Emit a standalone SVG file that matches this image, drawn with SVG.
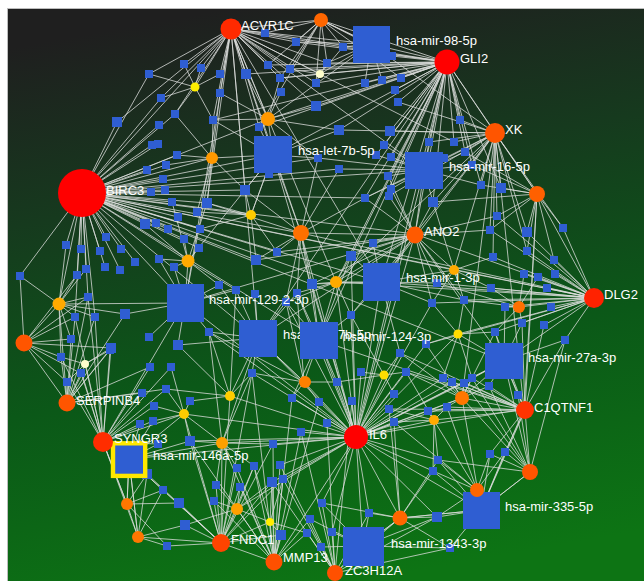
<svg xmlns="http://www.w3.org/2000/svg" xmlns:xlink="http://www.w3.org/1999/xlink" width="644" height="581" viewBox="0 0 644 581">
<defs>
<linearGradient id="bg" x1="0.35" y1="0" x2="0.55" y2="1">
<stop offset="0" stop-color="#1f1f1f"/>
<stop offset="0.3" stop-color="#163a1e"/>
<stop offset="0.62" stop-color="#0b5818"/>
<stop offset="1" stop-color="#0d7414"/>
</linearGradient>
<rect id="q" x="-4" y="-4" width="8" height="8"/>
<rect id="qm" x="-5" y="-5" width="10" height="10"/>
</defs>
<style>
.edges path{fill:none;stroke:#dcdedc;stroke-opacity:0.82;stroke-width:0.95;stroke-linejoin:round}
.nodes use,.mir rect{fill:#2f5ed2}
.lb{fill:#ffffff;font-family:"Liberation Sans",Arial,sans-serif;font-size:13px}
</style>
<rect x="0" y="0" width="644" height="581" fill="#ffffff"/>
<rect x="7.5" y="8.5" width="637" height="573" fill="url(#bg)" stroke="#bdbdbd" stroke-width="1"/>

<g id="connectors" class="edges">
<path id="e-birc3" d="M149 74 82 193 117 122M161 98 82 193 175 114M231 29 82 193 152 145M158 144 82 193 177 155M166 165 82 193 147 170M163 179 82 193 151 192M165 190 82 193 172 202M145 224 82 193 156 223M168 229 82 193 106 237M66 245 82 193 81 249M100 251 82 193 121 249M135 262 82 193 105 267M120 270 82 193 86 269M77 275 82 193 20 276M88 297 82 193 75 317M95 317 82 193 273 155M424 170 82 193 381 282M185 303 82 193 258 338M319 340 82 193 504 361M212 158 82 193 268 119M245 190 82 193 207 203M301 233 82 193 336 282M188 261 82 193 251 215M200 229 82 193 184 239M199 248 82 193 318 158M339 169 82 193 593 298M415 234 82 193 454 270M365 198 82 193 277 252M256 260 82 193 59 304M159 125 82 193 178 217"/>
<path id="e-acvr1c" d="M149 74 231 29 184 64M201 68 231 29 220 74M246 74 231 29 220 93M117 122 231 29 175 114M213 120 231 29 259 127M265 33 231 29 296 42M268 65 231 29 290 69M280 78 231 29 316 83M343 47 231 29 371 44M273 155 231 29 268 119M195 87 231 29 301 233M245 190 231 29 336 282M185 303 231 29 258 338M454 142 231 29 424 170M316 106 231 29 321 20M161 98 231 29 327 63M320 74 231 29 207 203M381 282 231 29"/>
<path id="e-gli2" d="M371 44 447 62 392 56M365 83 447 62 382 80M401 78 447 62 395 90M398 102 447 62 339 130M390 131 447 62 384 145M376 155 447 62 391 157M429 142 447 62 454 142M460 120 447 62 465 152M424 170 447 62 388 176M391 189 447 62 495 133M481 185 447 62 501 188M537 194 447 62 316 83M316 106 447 62 280 78M268 65 447 62 290 69M246 74 447 62 343 47M327 63 447 62 320 74M273 155 447 62 268 119M213 120 447 62 381 282M351 256 447 62 415 234M336 282 447 62 319 340M472 165 447 62 433 202M365 198 447 62 321 20M296 42 447 62 265 33M259 127 447 62 355 437M258 338 447 62"/>
<path id="e-xk" d="M460 120 495 133 454 142M465 152 495 133 472 165M481 185 495 133 501 188M537 194 495 133 424 170M433 202 495 133 429 142M390 131 495 133 497 216M490 230 495 133 527 232M415 234 495 133 381 282M365 198 495 133 527 251M563 228 495 133 454 270M389 196 495 133 398 102M339 130 495 133 493 257M462 398 495 133 524 409M336 282 495 133"/>
<path id="e-il6" d="M337 382 356 437 361 372M352 401 356 437 319 402M292 398 356 437 327 423M389 409 356 437 394 422M394 394 356 437 406 372M400 353 356 437 384 375M319 340 356 437 258 338M381 282 356 437 351 315M336 282 356 437 301 233M304 382 356 437 252 373M222 443 356 437 273 444M301 432 356 437 280 465M283 479 356 437 272 482M237 509 356 437 129 459M190 441 356 437 322 503M369 513 356 437 332 532M363 546 356 437 400 518M437 517 356 437 434 420M462 398 356 437 443 378M452 382 356 437 464 383M472 378 356 437 504 361M438 460 356 437 433 471M481 510 356 437 428 411M447 407 356 437 351 256M415 234 356 437 424 170M230 396 356 437 184 414M209 332 356 437 312 284M297 293 356 437 286 302M185 303 356 437 458 334M432 303 356 437 426 344M524 409 356 437"/>
<path id="e-dlg2" d="M554 260 594 298 555 274M538 277 594 298 547 288M551 307 594 298 544 325M565 340 594 298 563 228M527 232 594 298 527 251M524 274 594 298 505 307M522 323 594 298 519 307M491 288 594 298 495 332M504 361 594 298 454 270M381 282 594 298 415 234M537 194 594 298 458 334M464 300 594 298 437 283M432 303 594 298 426 344M493 257 594 298 497 216M490 230 594 298 301 233M336 282 594 298"/>
<path id="e-c1qtnf1" d="M518 395 525 410 489 386M504 361 525 410 472 378M464 383 525 410 462 398M447 407 525 410 428 411M530 472 525 410 505 452M490 454 525 410 481 510M434 420 525 410 406 372M565 340 525 410 495 332M400 353 525 410 544 325M522 323 525 410 452 382M443 378 525 410 389 409M537 194 525 410 319 340"/>
<path id="e-syngr3" d="M110 350 103 442 82 374M67 382 103 442 85 364M142 393 103 442 154 406M140 424 103 442 153 421M158 444 103 442 166 389M129 459 103 442 127 504M88 297 103 442 75 317M95 317 103 442 150 367M171 367 103 442 184 414M61 357 103 442 81 373M111 348 103 442 138 537"/>
<path id="e-serpinb4" d="M24 343 67 403 61 357M81 373 67 403 67 382M59 304 67 403 88 297M75 317 67 403 111 348M82 374 67 403 142 393M125 314 67 403 110 350M150 367 67 403 166 389M71 339 67 403 95 317"/>
<path id="e-fndc1" d="M167 546 221 543 138 537M185 525 221 543 179 503M214 501 221 543 216 485M237 509 221 543 163 490M147 474 221 543 240 487M237 468 221 543 254 466M270 522 221 543 281 535M272 482 221 543 190 441M222 443 221 543 184 414M283 479 221 543 129 459M252 373 221 543 273 444M230 396 221 543 274 562"/>
<path id="e-mmp13" d="M281 535 274 562 270 522M272 482 274 562 283 479M280 465 274 562 254 466M237 509 274 562 307 533M310 519 274 562 273 444M301 432 274 562 240 487M319 402 274 562 292 398M252 373 274 562 190 441M237 468 274 562 214 501M222 443 274 562 356 437"/>
<path id="e-zc3h12a" d="M363 546 335 573 321 547M332 532 335 573 307 533M310 519 335 573 322 503M369 513 335 573 400 518M437 517 335 573 283 479M327 423 335 573 352 401M450 548 335 573 280 465M301 432 335 573 272 482"/>
<path id="e-ano2" d="M373 243 415 235 351 256M365 198 415 235 389 196M391 189 415 235 433 202M497 216 415 235 490 230M381 282 415 235 424 170M454 270 415 235 437 283M301 233 415 235 336 282M277 252 415 235 256 260M504 361 415 235 432 303M464 300 415 235 388 176M312 284 415 235 351 315M258 338 415 235 185 303"/>
<path id="e-genes" d="M265 33 321 20 296 42M343 47 321 20 371 44M327 63 321 20 268 65M290 69 321 20 316 83M392 56 321 20 280 78M401 78 321 20 259 127
M501 188 537 194 481 185M527 232 537 194 563 228M497 216 537 194 490 230M465 152 537 194 472 165M527 251 537 194 554 260M433 202 537 194 524 409
M20 276 24 343 59 304M71 339 24 343 61 357M82 374 24 343 67 382M88 297 24 343 75 317M111 348 24 343 77 275
M505 452 530 472 490 454M481 510 530 472 518 395M489 386 530 472 472 378M464 383 530 472 438 460M565 340 530 472 462 398
M438 460 477 490 433 471M505 452 477 490 490 454M437 517 477 490 447 407M428 411 477 490 394 422
M369 513 400 518 437 517M363 546 400 518 450 548M433 471 400 518 389 409M394 422 400 518 322 503M481 510 400 518 438 460
M443 378 462 398 452 382M464 383 462 398 472 378M447 407 462 398 428 411M406 372 462 398 400 353M426 344 462 398 495 332M489 386 462 398
M277 252 301 233 256 260M245 190 301 233 273 155M312 284 301 233 297 293M286 302 301 233 207 203M318 158 301 233 339 169M365 198 301 233 319 340
M292 398 304 382 319 402M337 382 304 382 252 373M286 302 304 382 297 293M319 340 304 382 258 338M209 332 304 382
M129 459 127 504 147 474M163 490 127 504 138 537M103 442 127 504 179 503M167 546 127 504
M167 546 138 537 185 525M163 490 138 537 147 474M129 459 138 537
M505 307 519 307 522 323M491 288 519 307 495 332M524 274 519 307 538 277M464 300 519 307 437 283
M259 127 268 119 246 74M213 120 268 119 280 78M281 92 268 119 316 106M273 155 268 119 220 93M339 130 268 119 318 158
M177 155 212 158 166 165M213 120 212 158 245 190M207 203 212 158 197 212M175 114 212 158 220 93M273 155 212 158 185 303
M172 202 188 261 184 239M199 248 188 261 174 267M159 259 188 261 207 203M219 285 188 261 185 303M145 224 188 261 236 290
M20 276 59 304 66 245M77 275 59 304 86 269M75 317 59 304 71 339M88 297 59 304 95 317M125 314 59 304 61 357
M312 284 336 282 351 256M351 315 336 282 297 293M319 340 336 282 381 282M373 243 336 282 286 302
M437 283 454 270 464 300M432 303 454 270 493 257M491 288 454 270 381 282M433 202 454 270
M190 441 222 443 209 332M252 373 222 443 237 468M254 466 222 443 216 485M273 444 222 443 184 414
M214 501 237 509 240 487M216 485 237 509 254 466M272 482 237 509 185 525M270 522 237 509
M428 411 434 420 447 407M438 460 434 420 433 471M389 409 434 420 394 422M406 372 434 420
M184 64 195 87 201 68M220 74 195 87 161 98M175 114 195 87 213 120M149 74 195 87
M426 344 458 334 464 300M432 303 458 334 495 332M472 378 458 334 443 378
M361 372 384 375 406 372M400 353 384 375 394 394M351 315 384 375 337 382
M190 401 184 414 166 389M171 367 184 414 154 406M153 421 184 414 190 441
M281 535 270 522 272 482M283 479 270 522 254 466M307 533 270 522
M245 190 251 215 207 203M197 212 251 215 200 229M256 260 251 215 277 252M273 155 251 215
M209 332 230 396 252 373M190 401 230 396 178 345M236 290 230 396 166 389
M316 83 320 74 290 69M343 47 320 74 327 63M280 78 320 74
M82 374 85 364 61 357M111 348 85 364 67 382M110 350 85 364"/>
<path id="e-mirna" d="M321 20 371 44 343 47M327 63 371 44 392 56M365 83 371 44 382 80M296 42 371 44 320 74M268 119 371 44 495 133
M259 127 273 155 245 190M269 174 273 155 318 158M339 130 273 155 213 120M251 215 273 155 188 261M356 437 273 155
M388 176 424 170 444 158M433 202 424 170 391 189M429 142 424 170 384 145M376 155 424 170 391 157M465 152 424 170 472 165M481 185 424 170 365 198M339 169 424 170 318 158
M351 256 381 282 373 243M351 315 381 282 437 283M432 303 381 282 312 284M400 353 381 282 464 300
M174 267 185 303 159 259M209 332 185 303 219 285M178 345 185 303 149 337M125 314 185 303 236 290M103 442 185 303 59 304
M236 290 258 338 255 294M219 285 258 338 209 332M252 373 258 338 286 302M297 293 258 338 304 382M230 396 258 338 222 443M178 345 258 338
M297 293 319 340 286 302M312 284 319 340 351 315M337 382 319 340 351 256M292 398 319 340
M495 332 504 361 489 386M518 395 504 361 472 378M464 383 504 361 505 307M522 323 504 361 565 340M458 334 504 361 462 398M530 472 504 361
M140 424 129 459 153 421M158 444 129 459 147 474M163 490 129 459 190 441M127 504 129 459 138 537M184 414 129 459 222 443
M438 460 481 510 433 471M490 454 481 510 505 452M437 517 481 510 450 548M530 472 481 510 400 518M462 398 481 510 524 409
M369 513 363 546 332 532M321 547 363 546 322 503M450 548 363 546 400 518M437 517 363 546 310 519"/>
</g>

<g id="small-nodes" class="nodes">
<g id="s1"><use href="#q" x="265" y="33"/></g>
<g id="s2"><use href="#q" x="296" y="42"/></g>
<g id="s3"><use href="#q" x="343" y="47"/></g>
<g id="s4"><use href="#q" x="327" y="63"/></g>
<g id="s5"><use href="#q" x="392" y="56"/></g>
<g id="s6"><use href="#q" x="184" y="64"/></g>
<g id="s7"><use href="#q" x="201" y="68"/></g>
<g id="s8"><use href="#q" x="149" y="74"/></g>
<g id="s9"><use href="#q" x="220" y="74"/></g>
<g id="s10"><use href="#qm" x="246" y="74"/></g>
<g id="s11"><use href="#q" x="268" y="65"/></g>
<g id="s12"><use href="#q" x="290" y="69"/></g>
<g id="s13"><use href="#q" x="280" y="78"/></g>
<g id="s14"><use href="#q" x="316" y="83"/></g>
<g id="s15"><use href="#q" x="365" y="83"/></g>
<g id="s16"><use href="#q" x="382" y="80"/></g>
<g id="s17"><use href="#q" x="401" y="78"/></g>
<g id="s18"><use href="#q" x="395" y="90"/></g>
<g id="s19"><use href="#q" x="398" y="102"/></g>
<g id="s20"><use href="#q" x="281" y="92"/></g>
<g id="s21"><use href="#q" x="220" y="93"/></g>
<g id="s22"><use href="#q" x="161" y="98"/></g>
<g id="s23"><use href="#qm" x="316" y="106"/></g>
<g id="s24"><use href="#q" x="175" y="114"/></g>
<g id="s25"><use href="#q" x="213" y="120"/></g>
<g id="s26"><use href="#qm" x="117" y="122"/></g>
<g id="s27"><use href="#q" x="159" y="125"/></g>
<g id="s28"><use href="#q" x="259" y="127"/></g>
<g id="s29"><use href="#qm" x="339" y="130"/></g>
<g id="s30"><use href="#qm" x="390" y="131"/></g>
<g id="s31"><use href="#q" x="429" y="142"/></g>
<g id="s32"><use href="#q" x="454" y="142"/></g>
<g id="s33"><use href="#q" x="460" y="120"/></g>
<g id="s34"><use href="#q" x="465" y="152"/></g>
<g id="s35"><use href="#q" x="384" y="145"/></g>
<g id="s36"><use href="#q" x="376" y="155"/></g>
<g id="s37"><use href="#q" x="391" y="157"/></g>
<g id="s38"><use href="#q" x="152" y="145"/></g>
<g id="s39"><use href="#q" x="158" y="144"/></g>
<g id="s40"><use href="#q" x="177" y="155"/></g>
<g id="s41"><use href="#q" x="166" y="165"/></g>
<g id="s42"><use href="#q" x="147" y="170"/></g>
<g id="s43"><use href="#q" x="163" y="179"/></g>
<g id="s44"><use href="#q" x="151" y="192"/></g>
<g id="s45"><use href="#q" x="165" y="190"/></g>
<g id="s46"><use href="#q" x="269" y="174"/></g>
<g id="s47"><use href="#q" x="318" y="158"/></g>
<g id="s48"><use href="#q" x="339" y="169"/></g>
<g id="s49"><use href="#q" x="388" y="176"/></g>
<g id="s50"><use href="#q" x="391" y="189"/></g>
<g id="s51"><use href="#q" x="389" y="196"/></g>
<g id="s52"><use href="#q" x="365" y="198"/></g>
<g id="s53"><use href="#q" x="472" y="165"/></g>
<g id="s54"><use href="#q" x="481" y="185"/></g>
<g id="s55"><use href="#qm" x="501" y="188"/></g>
<g id="s56"><use href="#qm" x="433" y="202"/></g>
<g id="s57"><use href="#qm" x="245" y="190"/></g>
<g id="s58"><use href="#q" x="172" y="202"/></g>
<g id="s59"><use href="#qm" x="207" y="203"/></g>
<g id="s60"><use href="#q" x="197" y="212"/></g>
<g id="s61"><use href="#q" x="178" y="217"/></g>
<g id="s62"><use href="#qm" x="145" y="224"/></g>
<g id="s63"><use href="#q" x="156" y="223"/></g>
<g id="s64"><use href="#q" x="168" y="229"/></g>
<g id="s65"><use href="#q" x="200" y="229"/></g>
<g id="s66"><use href="#q" x="184" y="239"/></g>
<g id="s67"><use href="#q" x="199" y="248"/></g>
<g id="s68"><use href="#q" x="106" y="237"/></g>
<g id="s69"><use href="#q" x="66" y="245"/></g>
<g id="s70"><use href="#q" x="81" y="249"/></g>
<g id="s71"><use href="#q" x="100" y="251"/></g>
<g id="s72"><use href="#q" x="121" y="249"/></g>
<g id="s73"><use href="#q" x="135" y="262"/></g>
<g id="s74"><use href="#q" x="159" y="259"/></g>
<g id="s75"><use href="#q" x="174" y="267"/></g>
<g id="s76"><use href="#q" x="105" y="267"/></g>
<g id="s77"><use href="#q" x="120" y="270"/></g>
<g id="s78"><use href="#q" x="86" y="269"/></g>
<g id="s79"><use href="#q" x="77" y="275"/></g>
<g id="s80"><use href="#q" x="20" y="276"/></g>
<g id="s81"><use href="#q" x="277" y="252"/></g>
<g id="s82"><use href="#qm" x="256" y="260"/></g>
<g id="s83"><use href="#q" x="219" y="285"/></g>
<g id="s84"><use href="#q" x="236" y="290"/></g>
<g id="s85"><use href="#q" x="255" y="294"/></g>
<g id="s86"><use href="#q" x="297" y="293"/></g>
<g id="s87"><use href="#q" x="286" y="302"/></g>
<g id="s88"><use href="#qm" x="312" y="284"/></g>
<g id="s89"><use href="#q" x="88" y="297"/></g>
<g id="s90"><use href="#q" x="75" y="317"/></g>
<g id="s91"><use href="#q" x="95" y="317"/></g>
<g id="s92"><use href="#qm" x="125" y="314"/></g>
<g id="s93"><use href="#q" x="71" y="339"/></g>
<g id="s94"><use href="#qm" x="111" y="348"/></g>
<g id="s95"><use href="#q" x="149" y="337"/></g>
<g id="s96"><use href="#qm" x="178" y="345"/></g>
<g id="s97"><use href="#q" x="209" y="332"/></g>
<g id="s98"><use href="#q" x="61" y="357"/></g>
<g id="s99"><use href="#q" x="81" y="373"/></g>
<g id="s100"><use href="#q" x="67" y="382"/></g>
<g id="s101"><use href="#q" x="110" y="350"/></g>
<g id="s102"><use href="#q" x="150" y="367"/></g>
<g id="s103"><use href="#q" x="171" y="367"/></g>
<g id="s104"><use href="#q" x="252" y="373"/></g>
<g id="s105"><use href="#q" x="142" y="393"/></g>
<g id="s106"><use href="#q" x="166" y="389"/></g>
<g id="s107"><use href="#q" x="190" y="401"/></g>
<g id="s108"><use href="#q" x="154" y="406"/></g>
<g id="s109"><use href="#q" x="153" y="421"/></g>
<g id="s110"><use href="#q" x="140" y="424"/></g>
<g id="s111"><use href="#q" x="158" y="444"/></g>
<g id="s112"><use href="#qm" x="190" y="441"/></g>
<g id="s113"><use href="#q" x="273" y="444"/></g>
<g id="s114"><use href="#q" x="301" y="432"/></g>
<g id="s115"><use href="#q" x="292" y="398"/></g>
<g id="s116"><use href="#q" x="319" y="402"/></g>
<g id="s117"><use href="#q" x="352" y="401"/></g>
<g id="s118"><use href="#q" x="327" y="423"/></g>
<g id="s119"><use href="#q" x="337" y="382"/></g>
<g id="s120"><use href="#q" x="361" y="372"/></g>
<g id="s121"><use href="#q" x="351" y="315"/></g>
<g id="s122"><use href="#qm" x="351" y="256"/></g>
<g id="s123"><use href="#q" x="373" y="243"/></g>
<g id="s124"><use href="#q" x="497" y="216"/></g>
<g id="s125"><use href="#q" x="490" y="230"/></g>
<g id="s126"><use href="#qm" x="527" y="232"/></g>
<g id="s127"><use href="#q" x="563" y="228"/></g>
<g id="s128"><use href="#q" x="527" y="251"/></g>
<g id="s129"><use href="#q" x="493" y="257"/></g>
<g id="s130"><use href="#q" x="554" y="260"/></g>
<g id="s131"><use href="#q" x="555" y="274"/></g>
<g id="s132"><use href="#q" x="524" y="274"/></g>
<g id="s133"><use href="#q" x="538" y="277"/></g>
<g id="s134"><use href="#q" x="547" y="288"/></g>
<g id="s135"><use href="#q" x="491" y="288"/></g>
<g id="s136"><use href="#q" x="437" y="283"/></g>
<g id="s137"><use href="#q" x="464" y="300"/></g>
<g id="s138"><use href="#q" x="432" y="303"/></g>
<g id="s139"><use href="#q" x="551" y="307"/></g>
<g id="s140"><use href="#q" x="505" y="307"/></g>
<g id="s141"><use href="#q" x="522" y="323"/></g>
<g id="s142"><use href="#q" x="544" y="325"/></g>
<g id="s143"><use href="#q" x="565" y="340"/></g>
<g id="s144"><use href="#q" x="495" y="332"/></g>
<g id="s145"><use href="#q" x="426" y="344"/></g>
<g id="s146"><use href="#q" x="400" y="353"/></g>
<g id="s147"><use href="#q" x="406" y="372"/></g>
<g id="s148"><use href="#q" x="394" y="394"/></g>
<g id="s149"><use href="#q" x="389" y="409"/></g>
<g id="s150"><use href="#q" x="394" y="422"/></g>
<g id="s151"><use href="#q" x="443" y="378"/></g>
<g id="s152"><use href="#q" x="452" y="382"/></g>
<g id="s153"><use href="#q" x="464" y="383"/></g>
<g id="s154"><use href="#q" x="472" y="378"/></g>
<g id="s155"><use href="#q" x="489" y="386"/></g>
<g id="s156"><use href="#q" x="518" y="395"/></g>
<g id="s157"><use href="#q" x="428" y="411"/></g>
<g id="s158"><use href="#q" x="447" y="407"/></g>
<g id="s159"><use href="#q" x="490" y="454"/></g>
<g id="s160"><use href="#q" x="505" y="452"/></g>
<g id="s161"><use href="#q" x="438" y="460"/></g>
<g id="s162"><use href="#q" x="433" y="471"/></g>
<g id="s163"><use href="#qm" x="437" y="517"/></g>
<g id="s164"><use href="#q" x="369" y="513"/></g>
<g id="s165"><use href="#q" x="332" y="532"/></g>
<g id="s166"><use href="#q" x="450" y="548"/></g>
<g id="s167"><use href="#q" x="322" y="503"/></g>
<g id="s168"><use href="#q" x="321" y="547"/></g>
<g id="s169"><use href="#q" x="310" y="519"/></g>
<g id="s170"><use href="#q" x="307" y="533"/></g>
<g id="s171"><use href="#qm" x="281" y="535"/></g>
<g id="s172"><use href="#q" x="283" y="479"/></g>
<g id="s173"><use href="#qm" x="272" y="482"/></g>
<g id="s174"><use href="#q" x="280" y="465"/></g>
<g id="s175"><use href="#q" x="254" y="466"/></g>
<g id="s176"><use href="#q" x="237" y="468"/></g>
<g id="s177"><use href="#q" x="216" y="485"/></g>
<g id="s178"><use href="#q" x="240" y="487"/></g>
<g id="s179"><use href="#q" x="163" y="490"/></g>
<g id="s180"><use href="#qm" x="147" y="474"/></g>
<g id="s181"><use href="#q" x="214" y="501"/></g>
<g id="s182"><use href="#qm" x="179" y="503"/></g>
<g id="s183"><use href="#qm" x="185" y="525"/></g>
<g id="s184"><use href="#q" x="167" y="546"/></g>
<g id="s185"><use href="#q" x="444" y="158"/></g>
</g>

<g id="mirna-nodes" class="mir">
<g id="n-mir-98-5p"><rect x="353" y="26" width="37" height="37"/><text class="lb" x="396" y="45">hsa-mir-98-5p</text></g>
<g id="n-let-7b-5p"><rect x="254" y="136" width="38" height="37"/><text class="lb" x="298" y="155">hsa-let-7b-5p</text></g>
<g id="n-mir-16-5p"><rect x="405" y="152" width="38" height="37"/><text class="lb" x="449" y="171">hsa-mir-16-5p</text></g>
<g id="n-mir-1-3p"><rect x="363" y="263" width="37" height="38"/><text class="lb" x="406" y="282">hsa-mir-1-3p</text></g>
<g id="n-mir-129-2-3p"><rect x="167" y="284" width="37" height="38"/><text class="lb" x="209" y="304">hsa-mir-129-2-3p</text></g>
<g id="n-mir-27b-5p"><rect x="239" y="320" width="38" height="37"/><text class="lb" x="283" y="339">hsa-mir-27b-5p</text></g>
<g id="n-mir-124-3p"><rect x="300" y="322" width="38" height="37"/><text class="lb" x="343" y="341">hsa-mir-124-3p</text></g>
<g id="n-mir-27a-3p"><rect x="485" y="343" width="38" height="36"/><text class="lb" x="528" y="362">hsa-mir-27a-3p</text></g>
<g id="n-mir-146a-5p"><rect x="113" y="443.3" width="32.2" height="32.6" stroke="#ffe800" stroke-width="4.4"/><text class="lb" x="153" y="460">hsa-mir-146a-5p</text></g>
<g id="n-mir-335-5p"><rect x="463" y="492" width="37" height="37"/><text class="lb" x="505" y="511">hsa-mir-335-5p</text></g>
<g id="n-mir-1343-3p"><rect x="343" y="527" width="41" height="39"/><text class="lb" x="391" y="548">hsa-mir-1343-3p</text></g>
</g>

<g id="gene-nodes">
<g id="n-birc3"><circle cx="82" cy="193" r="24" fill="#ff0000"/><text class="lb" x="106" y="195">BIRC3</text></g>
<g id="n-acvr1c"><circle cx="231" cy="29" r="10.5" fill="#ff2a00"/><text class="lb" x="241" y="30">ACVR1C</text></g>
<g id="n-gli2"><circle cx="447" cy="62" r="12.5" fill="#ff0000"/><text class="lb" x="460" y="63">GLI2</text></g>
<g id="n-xk"><circle cx="495" cy="133" r="10" fill="#ff5500"/><text class="lb" x="505" y="134">XK</text></g>
<g id="n-ano2"><circle cx="415" cy="235" r="8.5" fill="#ff5a00"/><text class="lb" x="424" y="236">ANO2</text></g>
<g id="n-dlg2"><circle cx="594" cy="298" r="10" fill="#ff2200"/><text class="lb" x="604" y="299">DLG2</text></g>
<g id="n-c1qtnf1"><circle cx="525" cy="410" r="9" fill="#ff3300"/><text class="lb" x="534" y="412">C1QTNF1</text></g>
<g id="n-il6"><circle cx="356" cy="437" r="12" fill="#ff0000"/><text class="lb" x="369" y="439">IL6</text></g>
<g id="n-serpinb4"><circle cx="67" cy="403" r="8.5" fill="#ff5500"/><text class="lb" x="76" y="405">SERPINB4</text></g>
<g id="n-syngr3"><circle cx="103" cy="442" r="10" fill="#ff2d00"/><text class="lb" x="114" y="443">SYNGR3</text></g>
<g id="n-fndc1"><circle cx="221" cy="543" r="9" fill="#ff4400"/><text class="lb" x="231" y="544">FNDC1</text></g>
<g id="n-mmp13"><circle cx="274" cy="562" r="8.5" fill="#ff5000"/><text class="lb" x="283" y="562">MMP13</text></g>
<g id="n-zc3h12a"><circle cx="335" cy="573" r="8" fill="#ff5000"/><text class="lb" x="345" y="575">ZC3H12A</text></g>
<g id="n-g1"><circle cx="321" cy="20" r="7" fill="#ff6600"/></g>
<g id="n-g2"><circle cx="537" cy="194" r="8" fill="#ff6000"/></g>
<g id="n-g3"><circle cx="24" cy="343" r="8.5" fill="#ff5500"/></g>
<g id="n-g4"><circle cx="530" cy="472" r="8" fill="#ff5500"/></g>
<g id="n-g5"><circle cx="477" cy="490" r="7" fill="#ff6600"/></g>
<g id="n-g6"><circle cx="400" cy="518" r="7.5" fill="#ff6600"/></g>
<g id="n-g7"><circle cx="462" cy="398" r="7" fill="#ff7700"/></g>
<g id="n-g8"><circle cx="301" cy="233" r="8" fill="#ff7000"/></g>
<g id="n-g9"><circle cx="305" cy="382" r="6" fill="#ff8000"/></g>
<g id="n-g10"><circle cx="127" cy="504" r="6" fill="#ff7700"/></g>
<g id="n-g11"><circle cx="138" cy="537" r="6" fill="#ff7700"/></g>
<g id="n-g12"><circle cx="519" cy="307" r="6" fill="#ff7000"/></g>
<g id="n-g13"><circle cx="268" cy="119" r="7" fill="#ff9900"/></g>
<g id="n-g14"><circle cx="212" cy="158" r="6" fill="#ff9900"/></g>
<g id="n-g15"><circle cx="188" cy="261" r="6.5" fill="#ffaa00"/></g>
<g id="n-g16"><circle cx="59" cy="304" r="6.5" fill="#ffaa00"/></g>
<g id="n-g17"><circle cx="336" cy="282" r="6" fill="#ffaa00"/></g>
<g id="n-g18"><circle cx="454" cy="270" r="5" fill="#ffaa00"/></g>
<g id="n-g19"><circle cx="222" cy="443" r="6" fill="#ffa000"/></g>
<g id="n-g20"><circle cx="237" cy="509" r="6" fill="#ffa000"/></g>
<g id="n-g21"><circle cx="434" cy="420" r="5" fill="#ffaa00"/></g>
<g id="n-g22"><circle cx="230" cy="396" r="5" fill="#ffcc00"/></g>
<g id="n-g23"><circle cx="195" cy="87" r="4.5" fill="#ffee00"/></g>
<g id="n-g24"><circle cx="458" cy="334" r="4.5" fill="#ffdd00"/></g>
<g id="n-g25"><circle cx="384" cy="375" r="4.5" fill="#ffdd00"/></g>
<g id="n-g26"><circle cx="184" cy="414" r="5" fill="#ffcc00"/></g>
<g id="n-g27"><circle cx="270" cy="522" r="4" fill="#ffee00"/></g>
<g id="n-g28"><circle cx="251" cy="215" r="5" fill="#ffcc00"/></g>
<g id="n-g29"><circle cx="320" cy="74" r="4" fill="#ffffcc"/></g>
<g id="n-g30"><circle cx="85" cy="364" r="4" fill="#ffffcc"/></g>
</g>
</svg>
